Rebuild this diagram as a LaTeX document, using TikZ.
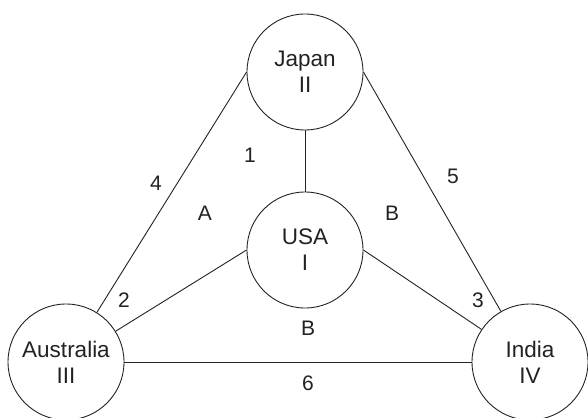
\documentclass[tikz,border=0pt]{standalone}
\usepackage{fontspec}
\setmainfont{Liberation Sans}
\definecolor{ink}{HTML}{222222}
\begin{document}
\begin{tikzpicture}[x=1pt,y=-1pt,
  country/.style={circle,draw=ink,line width=0.9pt,minimum size=116pt,inner sep=0pt,
    align=center,font=\fontsize{22.5}{26}\selectfont,text=ink},
  link/.style={draw=ink,line width=0.9pt},
  tag/.style={font=\fontsize{21}{24}\selectfont,text=ink,inner sep=0pt}]
\useasboundingbox (0,0) rectangle (588,417);
% the four countries
\node[country] (jp) at (305,72) {Japan\\II};
\node[country] (us) at (305,250) {USA\\I};
\node[country] (au) at (66,362) {Australia\\III};
\node[country] (in) at (530,362) {India\\IV};
% connections
\draw[link] (jp) -- (us);
\draw[link] (jp.west) -- (au);
\draw[link] (jp.east) -- (in);
\draw[link] (us.west) -- (au);
\draw[link] (us.east) -- (in);
\draw[link] (au) -- (in);
% edge and region labels
\node[tag] (l1) at (250,155) {1};
\node[tag] (l4) at (156,183) {4};
\node[tag] (la) at (205,213) {A};
\node[tag] (lb1) at (392,213) {B};
\node[tag] (l5) at (453,176) {5};
\node[tag] (l2) at (124,300) {2};
\node[tag] (l3) at (478,300) {3};
\node[tag] (lb2) at (308,328) {B};
\node[tag] (l6) at (308,383) {6};
\end{tikzpicture}
\end{document}
